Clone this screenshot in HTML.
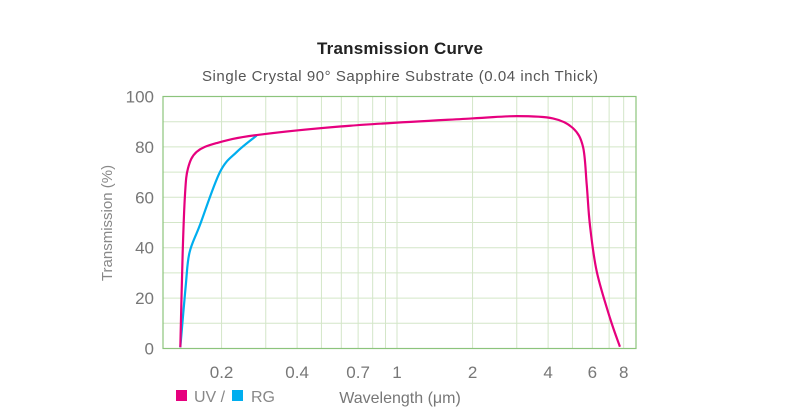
<!DOCTYPE html>
<html><head><meta charset="utf-8"><style>
body{margin:0;background:#fff;}
svg{display:block;font-family:"Liberation Sans",sans-serif;}
</style></head><body>
<svg id="chart" width="800" height="416" viewBox="0 0 800 416">
<text x="400" y="54" text-anchor="middle" font-size="17" font-weight="bold" fill="#222" textLength="166">Transmission Curve</text>
<text x="400" y="81" text-anchor="middle" font-size="15" fill="#555" textLength="396">Single Crystal 90° Sapphire Substrate (0.04 inch Thick)</text>
<g id="grid"></g>
<g id="yticks"></g>
<g id="xticks"></g>
<g id="series"></g>
<text transform="translate(112,223) rotate(-90)" text-anchor="middle" font-size="15" fill="#888">Transmission (%)</text>
<text x="400" y="403" text-anchor="middle" font-size="16" fill="#777">Wavelength (μm)</text>
<g>
<rect x="176" y="390" width="11" height="11" fill="#e6007e"/>
<text x="194" y="402" font-size="16" fill="#888">UV /</text>
<rect x="232" y="390" width="11" height="11" fill="#00aeef"/>
<text x="251" y="402" font-size="16" fill="#888">RG</text>
</g>
</svg>
<script>
const yTicks=[0,20,40,60,80,100];
const xTickLabels=[0.2,0.4,0.7,1,2,4,6,8];
const xGrid=[0.2,0.3,0.4,0.5,0.6,0.7,0.8,0.9,1,2,3,4,5,6,7,8];
const uvWavelength=[0.137,0.140,0.143,0.147,0.159,0.191,0.276,0.65,1.99,3.0,4.18,5.03,5.51,5.70,5.87,6.25,7.06,7.73];
const uvTransmission=[0.5,38,61,71.5,78,81.5,84.7,88.4,91.3,92.2,91.3,87.4,80,65,49,30.5,12,0.7];
const rgWavelength=[0.137,0.144,0.149,0.164,0.197,0.230,0.276];
const rgTransmission=[0.5,25,38,49,70,78,84.5];
const L=163,R=636,T=96.5,B=348.5;
const xs=v=>397+251*Math.log10(v);
const ys=v=>B-(B-T)*v/100;
const NS="http://www.w3.org/2000/svg";
function mk(tag,attrs,parent){const e=document.createElementNS(NS,tag);for(const k in attrs)e.setAttribute(k,attrs[k]);parent.appendChild(e);return e;}
const grid=document.getElementById('grid');
for(let v=10;v<100;v+=10){
const l=mk('line',{x1:L,x2:R,y1:ys(v),y2:ys(v),stroke:'#d3e6c8','stroke-width':1},grid);


}
xGrid.forEach(v=>{
const l=mk('line',{x1:xs(v),x2:xs(v),y1:T,y2:B,stroke:'#d3e6c8','stroke-width':1},grid);


});
const fr=mk('rect',{x:L,y:T,width:R-L,height:B-T,fill:'none',stroke:'#8cc47c','stroke-width':1.2},grid);


const yt=document.getElementById('yticks');
yTicks.forEach(v=>{
const t=mk('text',{x:154,y:ys(v)+6,'text-anchor':'end','font-size':17,fill:'#777'},yt);
t.textContent=v;


});
const xt=document.getElementById('xticks');
xTickLabels.forEach(v=>{
const t=mk('text',{x:xs(v),y:378,'text-anchor':'middle','font-size':17,fill:'#777'},xt);
t.textContent=v;


});
function pathFrom(wl,tr){
const p=wl.map((w,i)=>[xs(w),ys(tr[i])]);
let d='M'+p[0][0]+','+p[0][1];
for(let i=0;i<p.length-1;i++){
const p0=p[i-1]||p[i],p1=p[i],p2=p[i+1],p3=p[i+2]||p2;
const c1=[p1[0]+(p2[0]-p0[0])/6,p1[1]+(p2[1]-p0[1])/6];
const c2=[p2[0]-(p3[0]-p1[0])/6,p2[1]-(p3[1]-p1[1])/6];
d+=' C'+c1+' '+c2+' '+p2;
}
return d;
}
const s=document.getElementById('series');
const rg=mk('path',{d:pathFrom(rgWavelength,rgTransmission),fill:'none',stroke:'#00aeef','stroke-width':2.2},s);


const uv=mk('path',{d:pathFrom(uvWavelength,uvTransmission),fill:'none',stroke:'#e6007e','stroke-width':2.2},s);


</script>
</body></html>
